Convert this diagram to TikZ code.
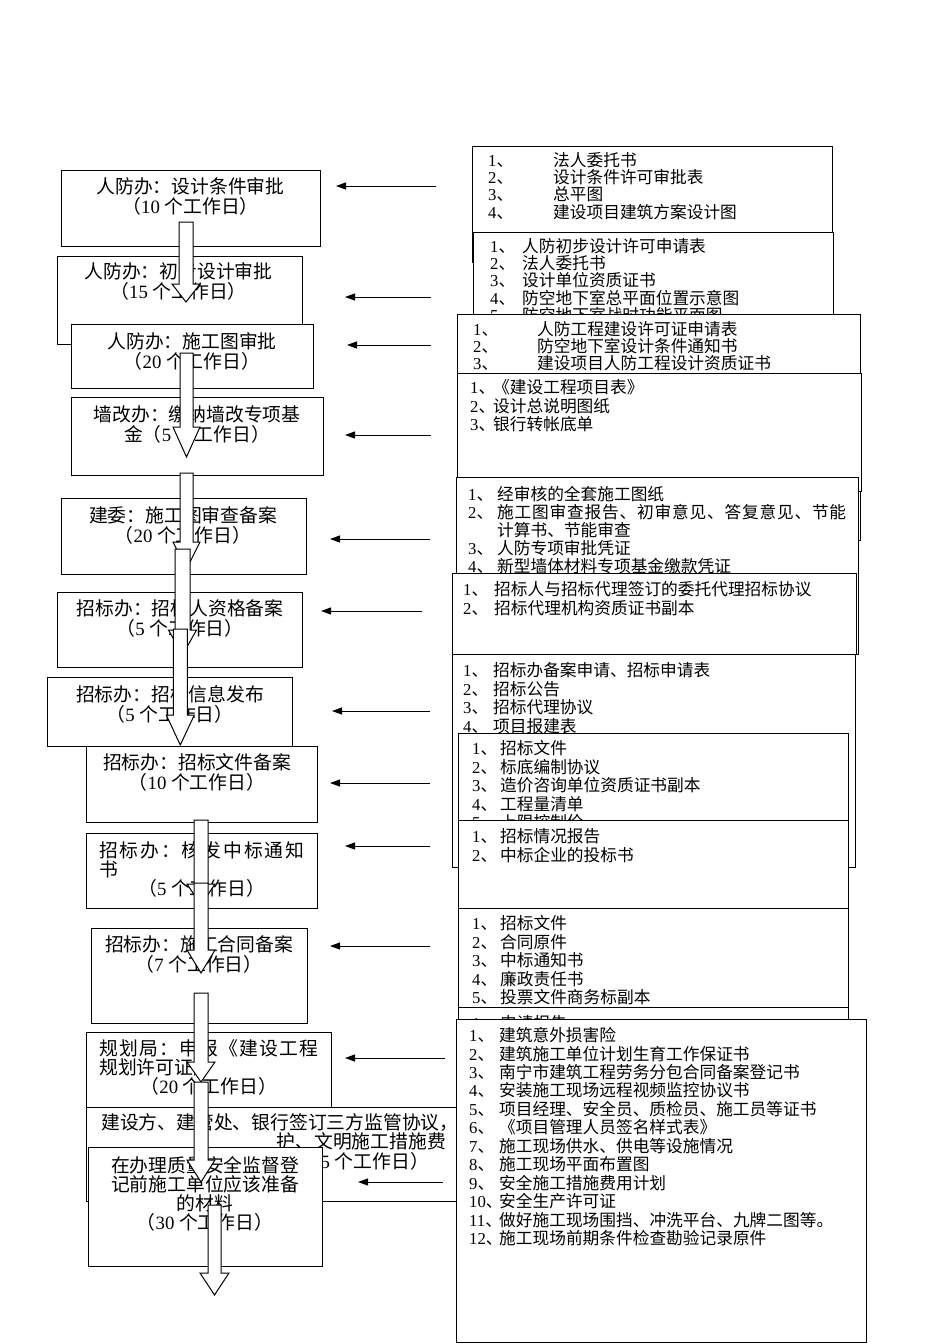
\documentclass[tikz,border=0pt]{standalone}
\usepackage{fontspec}
\usetikzlibrary{arrows.meta}
\newfontfamily\cjk{Noto Sans CJK SC}
\newfontfamily\lserif{Liberation Serif}
\newcommand\lfont{\cjk\fontsize{18.8}{20}\selectfont}
\newcommand\rfont{\cjk\fontsize{16.7}{18.5}\selectfont}
\newcommand\rfontb{\cjk\fontsize{16.7}{17.2}\selectfont}
\newcommand\tst{\rule{0pt}{0.95em}}
\newcommand\dg[1]{{\lserif #1}}
\newcommand\dgs[1]{{\lserif #1}\hspace{0.25em}}
\newlength\numw
\newcommand\li[2]{\makebox[\numw][l]{\dg{#1}、}#2}
\makeatletter
\newcommand\spread[2]{\makebox[#1][s]{\@tfor\sp@c:=#2\do{\sp@c\hfil}\unskip}}
\makeatother
\newcommand\bx[5]{\node[box, minimum width={#4-#2}, minimum height={#5-#3}] (#1) at (#2,#3) {};}
\newcommand\barrow[6]{\draw[blk] (#1-#5,#2) -- (#1+#5,#2) -- (#1+#5,#3) -- (#1+#6,#3) -- (#1,#4) -- (#1-#6,#3) -- (#1-#5,#3) -- cycle;}
\tikzset{
  box/.style={draw=black, fill=white, line width=1pt, inner sep=0pt, outer sep=0pt, anchor=north west},
  ltxt/.style={font=\lfont, align=center, inner sep=0pt, anchor=north},
  ltxtl/.style={font=\lfont, align=left, inner sep=0pt, anchor=north west},
  rtxt/.style={font=\rfont, align=left, inner sep=0pt, anchor=north west},
  rtxtb/.style={font=\rfontb, align=left, inner sep=0pt, anchor=north west},
  numcol/.style={execute at begin node={\global\numw=#1\relax}},
  conn/.style={line width=0.9pt, -{Triangle[length=10pt,width=7pt]}},
  blk/.style={draw=black, fill=white, line width=1pt},
}
\begin{document}
\begin{tikzpicture}[x=1pt,y=-1pt]
\useasboundingbox (0,0) rectangle (950,1344);
\fill[white] (0,0) rectangle (950,1344);

% ---------------- left column ----------------
\bx{A}{61}{170}{320}{246}
\node[ltxt] (At) at (190.5,175.3) {\tst 人防办：设计条件审批\\（\dgs{10}个工作日）};
\bx{B}{57}{256}{302}{344}
\node[ltxt] (Bt) at (178.5,260.3) {\tst 人防办：初步设计审批\\（\dgs{15}个工作日）};
\bx{C}{71}{324}{313}{388}
\node[ltxt] (Ct) at (192,330.3) {\tst 人防办：施工图审批\\（\dgs{20}个工作日）};
\bx{D}{71}{397}{323}{475}
\node[ltxt] (Dt) at (197,403.3) {\tst 墙改办：缴纳墙改专项基\\金（\dgs{5}个工作日）};
\bx{E}{61}{498}{306}{574}
\node[ltxt] (Et) at (183,504.3) {\tst 建委：施工图审查备案\\（\dgs{20}个工作日）};
\bx{F}{57}{592}{302}{667}
\node[ltxt] (Ft) at (180,597.3) {\tst 招标办：招标人资格备案\\（\dgs{5}个工作日）};
\bx{G}{47}{677}{292}{746}
\node[ltxt] (Gt) at (170,683.3) {\tst 招标办：招标信息发布\\（\dgs{5}个工作日）};
\bx{H}{86}{746}{317}{822}
\node[ltxt] (Ht) at (197,751.3) {\tst 招标办：招标文件备案\\（\dgs{10}个工作日）};
\bx{I}{86}{833}{317}{908}
\node[ltxtl, font=\cjk\fontsize{18.8}{19}\selectfont] (It) at (99,839.3) {\tst\spread{205pt}{招标办：核发中标通知}\\书\\\makebox[205pt]{（\dgs{5}个工作日）}};
\bx{J}{91}{928}{307}{1023}
\node[ltxt] (Jt) at (199,933.3) {\tst 招标办：施工合同备案\\（\dgs{7}个工作日）};
\bx{K}{86}{1032}{331}{1107}
\node[ltxtl, font=\cjk\fontsize{18.8}{19}\selectfont] (Kt) at (99,1037.3) {\tst\spread{219pt}{规划局：申报《建设工程}\\规划许可证》\\\makebox[219pt]{（\dgs{20}个工作日）}};
\bx{L}{86}{1107}{457}{1201}
\node[ltxtl, font=\cjk\fontsize{18.8}{19}\selectfont] (Lt1) at (101,1111.5) {\tst 建设方、建管处、银行签订三方监管协议，};
\node[inner sep=0pt, anchor=north east, font=\cjk\fontsize{18.8}{19}\selectfont] (Lt2) at (446,1130.5) {\tst 护、文明施工措施费};
\node[inner sep=0pt, anchor=north east, font=\cjk\fontsize{18.8}{19}\selectfont] (Lt3) at (429,1150.5) {\tst（\dgs{5}个工作日）};
\bx{M}{88}{1147}{322}{1266}
\node[ltxt, font=\cjk\fontsize{18.8}{19}\selectfont] (Mt) at (205,1154.3) {\tst 在办理质量安全监督登\\记前施工单位应该准备\\的材料\\（\dgs{30}个工作日）};

% ---------------- right column ----------------
\bx{R1}{472}{146}{832}{262}
\node[rtxtb, numcol=65pt] (R1t) at (488,150.5) {\tst\li{1}{法人委托书}\\\li{2}{设计条件许可审批表}\\\li{3}{总平图}\\\li{4}{建设项目建筑方案设计图}};
\bx{R2}{473}{232}{833}{400}
\node[rtxtb, numcol=32pt] (R2t) at (490,236.5) {\tst\li{1}{人防初步设计许可申请表}\\\li{2}{法人委托书}\\\li{3}{设计单位资质证书}\\\li{4}{防空地下室总平面位置示意图}\\\li{5}{防空地下室战时功能平面图}};
\bx{R3}{457}{314}{860}{540}
\node[rtxtb, numcol=64pt] (R3t) at (473,319.5) {\tst\li{1}{人防工程建设许可证申请表}\\\li{2}{防空地下室设计条件通知书}\\\li{3}{建设项目人防工程设计资质证书}};
\bx{R4}{457}{373}{861}{491}
\node[rtxt, numcol=23pt] (R4t) at (470,377.5) {\tst\li{1}{《建设工程项目表》}\\\li{2}{设计总说明图纸}\\\li{3}{银行转帐底单}};
\bx{R5}{456}{477}{858}{654}
\node[rtxt, numcol=29pt, font=\cjk\fontsize{16.7}{18}\selectfont] (R5t) at (468,484.5) {\tst\li{1}{经审核的全套施工图纸}\\\li{2}{\spread{349pt}{施工图审查报告、初审意见、答复意见、节能}}\\\hspace*{\numw}计算书、节能审查\\\li{3}{人防专项审批凭证}\\\li{4}{新型墙体材料专项基金缴款凭证}};
\bx{R6}{452}{573}{856}{654}
\node[rtxt, numcol=31pt] (R6t) at (463,579.5) {\tst\li{1}{招标人与招标代理签订的委托代理招标协议}\\\li{2}{招标代理机构资质证书副本}};
\bx{R7}{452}{654}{855}{867}
\node[rtxt, numcol=30pt] (R7t) at (463,660.5) {\tst\li{1}{招标办备案申请、招标申请表}\\\li{2}{招标公告}\\\li{3}{招标代理协议}\\\li{4}{项目报建表}};
\bx{R8}{458}{733}{848}{880}
\node[rtxt, numcol=28pt] (R8t) at (472,738.5) {\tst\li{1}{招标文件}\\\li{2}{标底编制协议}\\\li{3}{造价咨询单位资质证书副本}\\\li{4}{工程量清单}\\\li{5}{上限控制价}};
\bx{R9}{458}{820}{848}{908}
\node[rtxt, numcol=28pt] (R9t) at (472,826.5) {\tst\li{1}{招标情况报告}\\\li{2}{中标企业的投标书}};
\bx{R10}{458}{908}{848}{1007}
\node[rtxt, numcol=28pt] (R10t) at (472,913.5) {\tst\li{1}{招标文件}\\\li{2}{合同原件}\\\li{3}{中标通知书}\\\li{4}{廉政责任书}\\\li{5}{投票文件商务标副本}};
\bx{R11}{458}{1007}{848}{1060}
\node[rtxt, numcol=28pt] (R11t) at (472,1013.5) {\tst\li{1}{申请报告}};
\bx{R12}{456}{1019}{866}{1342}
\node[rtxt, numcol=30pt, font=\cjk\fontsize{16.7}{18.45}\selectfont] (R12t) at (469,1025.5) {\tst\li{1}{建筑意外损害险}\\\li{2}{建筑施工单位计划生育工作保证书}\\\li{3}{南宁市建筑工程劳务分包合同备案登记书}\\\li{4}{安装施工现场远程视频监控协议书}\\\li{5}{项目经理、安全员、质检员、施工员等证书}\\\li{6}{《项目管理人员签名样式表》}\\\li{7}{施工现场供水、供电等设施情况}\\\li{8}{施工现场平面布置图}\\\li{9}{安全施工措施费用计划}\\\li{10}{安全生产许可证}\\\li{11}{做好施工现场围挡、冲洗平台、九牌二图等。}\\\li{12}{施工现场前期条件检查勘验记录原件}};

% ---------------- thin arrows ----------------
\coordinate (s1) at (436,186);  \coordinate (e1) at (336,186);
\coordinate (s2) at (431,297);  \coordinate (e2) at (345,297);
\coordinate (s3) at (431,345);  \coordinate (e3) at (347,345);
\coordinate (s4) at (431,435);  \coordinate (e4) at (345,435);
\coordinate (s5) at (430,539);  \coordinate (e5) at (330,539);
\coordinate (s6) at (422,611);  \coordinate (e6) at (321,611);
\coordinate (s7) at (430,711);  \coordinate (e7) at (332,711);
\coordinate (s8) at (430,783);  \coordinate (e8) at (330,783);
\coordinate (s9) at (430,846);  \coordinate (e9) at (345,846);
\coordinate (s10) at (430,946); \coordinate (e10) at (330,946);
\coordinate (s11) at (445,1058); \coordinate (e11) at (345,1058);
\coordinate (s12) at (443,1182); \coordinate (e12) at (358,1182);
\foreach \i in {1,...,12} {\draw[conn] (s\i) -- (e\i);}

% ---------------- block arrows ----------------
\barrow{186}{222}{284}{302}{7}{14}
\barrow{186.5}{353}{427}{457}{6.5}{13.5}
\barrow{186.5}{473}{542}{569}{6.5}{13.5}
\barrow{182.5}{549}{630}{655}{7.5}{14}
\barrow{180.3}{629}{715}{745}{7}{14}
\barrow{201}{820}{884}{905}{7}{14}
\barrow{201}{883}{950}{973}{7}{14}
\barrow{201}{993}{1062}{1082}{7}{14}
\barrow{201}{1082}{1160}{1182}{7}{14}
\barrow{214.5}{1205}{1273}{1295}{6.5}{14.5}
\end{tikzpicture}
\end{document}
